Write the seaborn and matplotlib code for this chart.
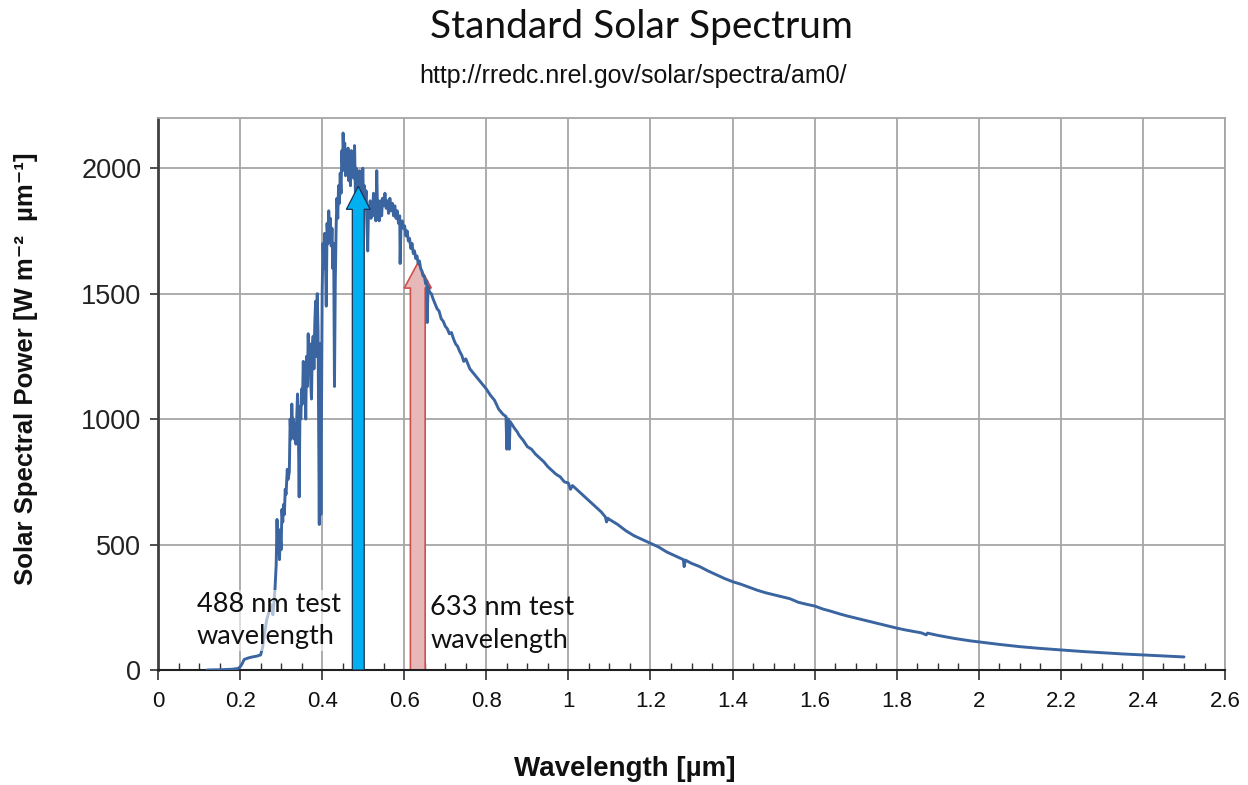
import matplotlib
matplotlib.use("Agg")
import matplotlib.pyplot as plt
import numpy as np
import pandas as pd
import seaborn as sns
from matplotlib.ticker import MultipleLocator, FuncFormatter

# AM0 extraterrestrial solar spectrum (wavelength in µm, irradiance in W m-2 µm-1)
wavelength_um = [
    0.120, 0.150, 0.180, 0.195, 0.200, 0.205, 0.210, 0.215, 0.220, 0.230,
    0.240, 0.250, 0.255, 0.260, 0.265, 0.270, 0.275, 0.280, 0.285, 0.288,
    0.290, 0.292, 0.294, 0.296, 0.298, 0.300, 0.302, 0.304, 0.306, 0.308,
    0.310, 0.312, 0.315, 0.317, 0.320, 0.322, 0.324, 0.326, 0.328, 0.330,
    0.332, 0.334, 0.336, 0.338, 0.340, 0.342, 0.344, 0.346, 0.348, 0.350,
    0.352, 0.354, 0.356, 0.358, 0.360, 0.362, 0.364, 0.366, 0.368, 0.370,
    0.372, 0.374, 0.376, 0.378, 0.380, 0.382, 0.384, 0.386, 0.388, 0.390,
    0.393, 0.395, 0.397, 0.400, 0.402, 0.404, 0.406, 0.408, 0.410, 0.412,
    0.414, 0.416, 0.418, 0.420, 0.422, 0.424, 0.426, 0.428, 0.430, 0.432,
    0.434, 0.436, 0.438, 0.440, 0.442, 0.444, 0.446, 0.448, 0.450, 0.451,
    0.453, 0.455, 0.457, 0.459, 0.461, 0.463, 0.465, 0.467, 0.469, 0.471,
    0.473, 0.475, 0.477, 0.479, 0.481, 0.483, 0.485, 0.487, 0.489, 0.491,
    0.493, 0.495, 0.497, 0.499, 0.501, 0.503, 0.505, 0.507, 0.509, 0.511,
    0.513, 0.515, 0.517, 0.519, 0.521, 0.523, 0.525, 0.527, 0.529, 0.531,
    0.533, 0.535, 0.537, 0.539, 0.541, 0.543, 0.545, 0.547, 0.550, 0.553,
    0.556, 0.559, 0.562, 0.565, 0.568, 0.571, 0.574, 0.577, 0.580, 0.583,
    0.586, 0.589, 0.590, 0.592, 0.595, 0.598, 0.601, 0.604, 0.607, 0.610,
    0.613, 0.616, 0.619, 0.622, 0.625, 0.628, 0.631, 0.634, 0.637, 0.640,
    0.643, 0.646, 0.649, 0.652, 0.655, 0.656, 0.658, 0.662, 0.666, 0.670,
    0.675, 0.680, 0.685, 0.690, 0.695, 0.700, 0.705, 0.710, 0.715, 0.720,
    0.725, 0.730, 0.735, 0.740, 0.745, 0.750, 0.760, 0.770, 0.780, 0.790,
    0.800, 0.810, 0.820, 0.830, 0.840, 0.848, 0.850, 0.852, 0.854, 0.856,
    0.858, 0.862, 0.866, 0.870, 0.875, 0.880, 0.890, 0.900, 0.910, 0.920,
    0.930, 0.940, 0.950, 0.960, 0.970, 0.980, 0.990, 1.000, 1.005, 1.010,
    1.020, 1.040, 1.060, 1.080, 1.090, 1.093, 1.096, 1.100, 1.120, 1.140,
    1.160, 1.180, 1.200, 1.220, 1.240, 1.260, 1.280, 1.282, 1.285, 1.300,
    1.320, 1.340, 1.360, 1.380, 1.400, 1.420, 1.440, 1.460, 1.480, 1.500,
    1.520, 1.540, 1.560, 1.580, 1.600, 1.620, 1.640, 1.660, 1.680, 1.700,
    1.720, 1.740, 1.760, 1.780, 1.800, 1.820, 1.840, 1.860, 1.872, 1.875,
    1.900, 1.920, 1.940, 1.960, 1.980, 2.000, 2.050, 2.100, 2.150, 2.200,
    2.250, 2.300, 2.350, 2.400, 2.450, 2.500,
]
irradiance = [
    0, 1, 3, 6, 12, 25, 42, 45, 48, 52,
    55, 60, 90, 150, 200, 230, 260, 220, 320, 420,
    600, 470, 560, 440, 540, 480, 640, 590, 660, 620,
    720, 700, 800, 760, 790, 1000, 920, 1060, 960, 1000,
    920, 980, 900, 1000, 1100, 960, 690, 1050, 1000, 1120,
    1060, 1230, 1100, 1200, 1000, 1250, 1130, 1340, 1200, 1300,
    1150, 1080, 1280, 1330, 1200, 1380, 1470, 1250, 1500, 1350,
    580, 1300, 620, 1500, 1700, 1600, 1740, 1650, 1450, 1780,
    1700, 1830, 1750, 1800, 1690, 1760, 1600, 1700, 1130, 1550,
    1760, 1880, 1800, 1930, 1860, 1980, 1900, 2070, 1990, 2140,
    2040, 2100, 1970, 2060, 1980, 2080, 1950, 2010, 1930, 2070,
    1980, 2040, 1960, 2090, 1900, 2000, 1880, 1960, 1900, 1990,
    1870, 1950, 1880, 2000, 1850, 1930, 1840, 1910, 1780, 1670,
    1850, 1820, 1870, 1800, 1860, 1810, 1900, 1840, 1880, 1790,
    1990, 1820, 1870, 1790, 1850, 1870, 1810, 1880, 1850, 1900,
    1840, 1870, 1820, 1880, 1830, 1860, 1810, 1850, 1800, 1830,
    1780, 1810, 1620, 1770, 1790, 1760, 1770, 1730, 1750, 1710,
    1720, 1680, 1700, 1660, 1670, 1640, 1650, 1620, 1630, 1600,
    1590, 1570, 1570, 1540, 1550, 1385, 1530, 1505, 1500, 1480,
    1460, 1440, 1430, 1400, 1390, 1370, 1360, 1340, 1345, 1320,
    1300, 1290, 1270, 1255, 1230, 1240, 1200, 1180, 1160, 1140,
    1120, 1095, 1075, 1040, 1020, 1010, 880, 1000, 1000, 880,
    990, 980, 970, 960, 950, 935, 915, 890, 880, 860,
    845, 830, 810, 795, 780, 770, 750, 745, 720, 735,
    720, 690, 660, 630, 610, 590, 605, 600, 580, 555,
    535, 520, 505, 490, 470, 455, 440, 412, 438, 425,
    412, 395, 380, 365, 352, 342, 330, 318, 308, 300,
    292, 284, 270, 262, 255, 243, 234, 224, 215, 207,
    199, 191, 183, 175, 167, 160, 154, 148, 140, 147,
    138, 132, 126, 121, 116, 112, 102, 93, 86, 80,
    74, 69, 64, 60, 56, 52,
]

# Laser test wavelengths (µm) and the height their arrows reach
test_wavelengths = [0.488, 0.633]
arrow_tops = [1928, 1622]
test_labels = ["488 nm test\nwavelength", "633 nm test\nwavelength"]

x_ticks = [0, 0.2, 0.4, 0.6, 0.8, 1, 1.2, 1.4, 1.6, 1.8, 2, 2.2, 2.4, 2.6]
y_ticks = [0, 500, 1000, 1500, 2000]

spectrum = pd.DataFrame({"wavelength": wavelength_um, "power": irradiance})

sns.set_theme(style="whitegrid")
plt.rcParams["font.family"] = ["Liberation Sans", "DejaVu Sans"]

fig = plt.figure(figsize=(12.48, 7.85), dpi=100)
ax = fig.add_axes([0.1266, 0.1465, 0.855, 0.7032])
ax.set_facecolor("white")

sns.lineplot(data=spectrum, x="wavelength", y="power", ax=ax,
             color="#3A65A0", linewidth=2.1, estimator=None, sort=False,
             zorder=3)

# Arrows marking the two test wavelengths
red_x, blue_x = test_wavelengths[1], test_wavelengths[0]
ax.arrow(red_x, 0, 0, arrow_tops[1], width=0.036, head_width=0.066,
         head_length=100, length_includes_head=True,
         facecolor="#E6B9B8", edgecolor="#D0504D", linewidth=1.2, zorder=2)
ax.arrow(blue_x, 0, 0, arrow_tops[0], width=0.029, head_width=0.058,
         head_length=92, length_includes_head=True,
         facecolor="#00B0F0", edgecolor="#1F3050", linewidth=0.9, zorder=4)

text_font = ["Lato", "DejaVu Sans"]
ax.text(0.095, 312, test_labels[0], fontsize=19.5, family=text_font,
        va="top", ha="left", linespacing=1.38, zorder=5, color="#111111",
        bbox=dict(facecolor="white", alpha=0.6, edgecolor="none", pad=1))
ax.text(0.663, 298, test_labels[1], fontsize=19.5, family=text_font,
        va="top", ha="left", linespacing=1.38, zorder=5, color="#111111")

ax.set_xlim(0, 2.6)
ax.set_ylim(0, 2200)
ax.set_xticks(x_ticks)
ax.set_yticks(y_ticks)
ax.xaxis.set_minor_locator(MultipleLocator(0.05))
ax.xaxis.set_major_formatter(FuncFormatter(lambda v, p: f"{v:g}"))
ax.grid(True, which="major", color="#A6A6A6", linewidth=1.3)
ax.grid(False, which="minor")

ax.tick_params(axis="x", which="major", direction="out", length=7, width=1.2,
               color="#303030", bottom=True, pad=8, labelsize=16)
ax.tick_params(axis="x", which="minor", direction="in", length=5, width=1.0,
               color="#303030", bottom=True)
ax.tick_params(axis="y", which="major", direction="out", length=6, width=1.2,
               color="#303030", left=True, pad=6, labelsize=19.5)
for lbl in ax.get_xticklabels():
    lbl.set_color("#111111")
for lbl in ax.get_yticklabels():
    lbl.set_color("#222222")

for side in ["top", "right"]:
    ax.spines[side].set_color("#A6A6A6")
    ax.spines[side].set_linewidth(1.3)
ax.spines["left"].set_color("#404040")
ax.spines["left"].set_linewidth(2.0)
ax.spines["bottom"].set_color("#202020")
ax.spines["bottom"].set_linewidth(1.5)

ax.set_xlabel("Wavelength [µm]", fontsize=20, fontweight="bold",
              color="#111111")
ax.xaxis.set_label_coords(0.437, -0.155)
ax.set_ylabel("Solar Spectral Power [W m\u207B\u00B2  µm\u207B\u00B9]",
              fontsize=18.5, fontweight="bold", color="#111111")
ax.yaxis.set_label_coords(-0.112, 0.545)

fig.text(0.514, 0.965, "Standard Solar Spectrum", ha="center", va="center",
         fontsize=28, family=text_font, color="#111111")
fig.text(0.507, 0.903, "http://rredc.nrel.gov/solar/spectra/am0/",
         ha="center", va="center", fontsize=18, color="#111111")

fig.savefig("out.png", dpi=100, facecolor="white")
